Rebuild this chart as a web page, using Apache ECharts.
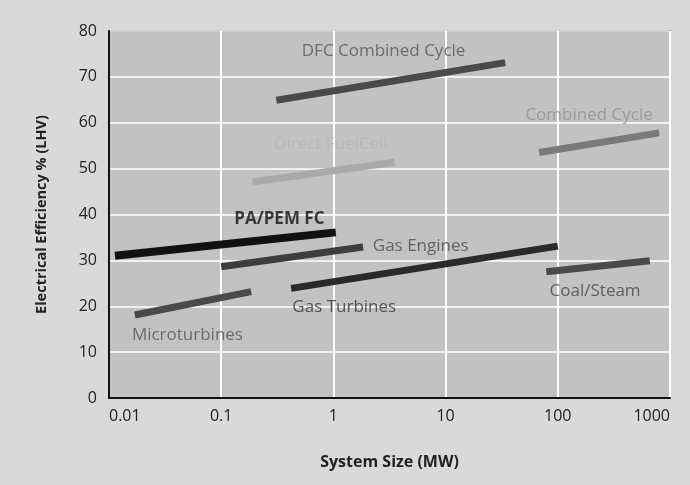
<!DOCTYPE html>
<html>
<head>
<meta charset="utf-8">
<script src="https://cdn.jsdelivr.net/npm/echarts@6/dist/echarts.min.js"></script>
<style>
  html, body { margin: 0; padding: 0; background: #d9d9d9; }
  #chart { width: 690px; height: 485px; }
</style>
</head>
<body>
<div id="chart"></div>
<script>
// technology names
const techNames = ['DFC Combined Cycle', 'Direct FuelCell', 'Combined Cycle', 'PA/PEM FC',
  'Gas Engines', 'Gas Turbines', 'Microturbines', 'Coal/Steam'];

// system size range (MW) for each band
const sizeStart = [0.31, 0.19, 68, 0.0113, 0.1, 0.42, 0.017, 79];
const sizeEnd = [34, 3.5, 800, 1.05, 1.84, 100, 0.185, 660];

// electrical efficiency % (LHV) at start and end
const effStart = [64.9, 47.1, 53.5, 31.0, 28.6, 23.9, 18.1, 27.5];
const effEnd = [73.1, 51.4, 57.8, 36.1, 32.9, 33.1, 23.2, 29.9];

// where each band's name sits (data coords)
const labelSize = [2.8, 0.95, 190, 0.33, 6.0, 1.25, 0.05, 215];
const labelEff = [75.5, 55.4, 61.6, 39.0, 33.1, 19.9, 13.8, 23.3];

const yTicks = [0, 10, 20, 30, 40, 50, 60, 70, 80];

const lineColors = ['#4a4a4a', '#a9a9a9', '#7a7a7a', '#111111', '#3d3d3d', '#2a2a2a', '#4a4a4a', '#4a4a4a'];
const lineWidths = [7, 7, 7, 8, 7, 7, 7, 7];
const textColors = ['#555555', '#b4b4b4', '#8e8e8e', '#111111', '#4a4a4a', '#333333', '#555555', '#444444'];

const chart = echarts.init(document.getElementById('chart'));

const lineSeries = techNames.map((name, i) => ({
  name: name,
  type: 'line',
  symbol: 'none',
  silent: true,
  lineStyle: { color: lineColors[i], width: lineWidths[i], cap: 'butt' },
  data: [[sizeStart[i], effStart[i]], [sizeEnd[i], effEnd[i]]],
  z: 3
}));

const labelSeries = {
  type: 'scatter',
  symbolSize: 0,
  silent: true,
  z: 4,
  data: techNames.map((name, i) => ({
    name: name,
    value: [labelSize[i], labelEff[i]],
    label: {
      show: true,
      position: 'inside',
      formatter: '{b}',
      fontFamily: 'Open Sans',
      fontSize: 17,
      fontWeight: name === 'PA/PEM FC' ? 'bold' : 'normal',
      color: textColors[i]
    }
  }))
};

const option = {
  backgroundColor: '#d9d9d9',
  animation: false,
  grid: {
    left: 109,
    right: 20,
    top: 31,
    bottom: 87,
    show: true,
    backgroundColor: '#c2c2c2',
    borderColor: '#222',
    borderWidth: 1.5
  },
  xAxis: {
    type: 'log',
    logBase: 10,
    min: 0.01,
    max: 1000,
    name: 'System Size (MW)',
    nameLocation: 'middle',
    nameGap: 56,
    nameTextStyle: { fontFamily: 'Open Sans', fontSize: 16, fontWeight: 'bold', color: '#222' },
    axisLine: { lineStyle: { color: '#111', width: 2 } },
    axisTick: { show: false },
    splitLine: { show: true, lineStyle: { color: '#ffffff', width: 2 } },
    minorTick: { show: false },
    axisLabel: {
      fontFamily: 'Open Sans',
      fontSize: 16,
      color: '#222',
      margin: 10,
      alignMinLabel: 'left',
      alignMaxLabel: 'right',
      formatter: v => String(v)
    }
  },
  yAxis: {
    type: 'value',
    min: yTicks[0],
    max: yTicks[yTicks.length - 1],
    interval: 10,
    name: 'Electrical Efficiency % (LHV)',
    nameLocation: 'middle',
    nameGap: 60,
    nameRotate: 90,
    nameTextStyle: { fontFamily: 'Open Sans', fontSize: 14.5, fontWeight: 'bold', color: '#222' },
    axisLine: { show: true, lineStyle: { color: '#111', width: 2 } },
    axisTick: { show: false },
    splitLine: { lineStyle: { color: '#ffffff', width: 1.5 } },
    axisLabel: { fontFamily: 'Open Sans', fontSize: 16, color: '#222', margin: 12 }
  },
  series: [...lineSeries, labelSeries]
};

chart.setOption(option);
</script>
</body>
</html>
